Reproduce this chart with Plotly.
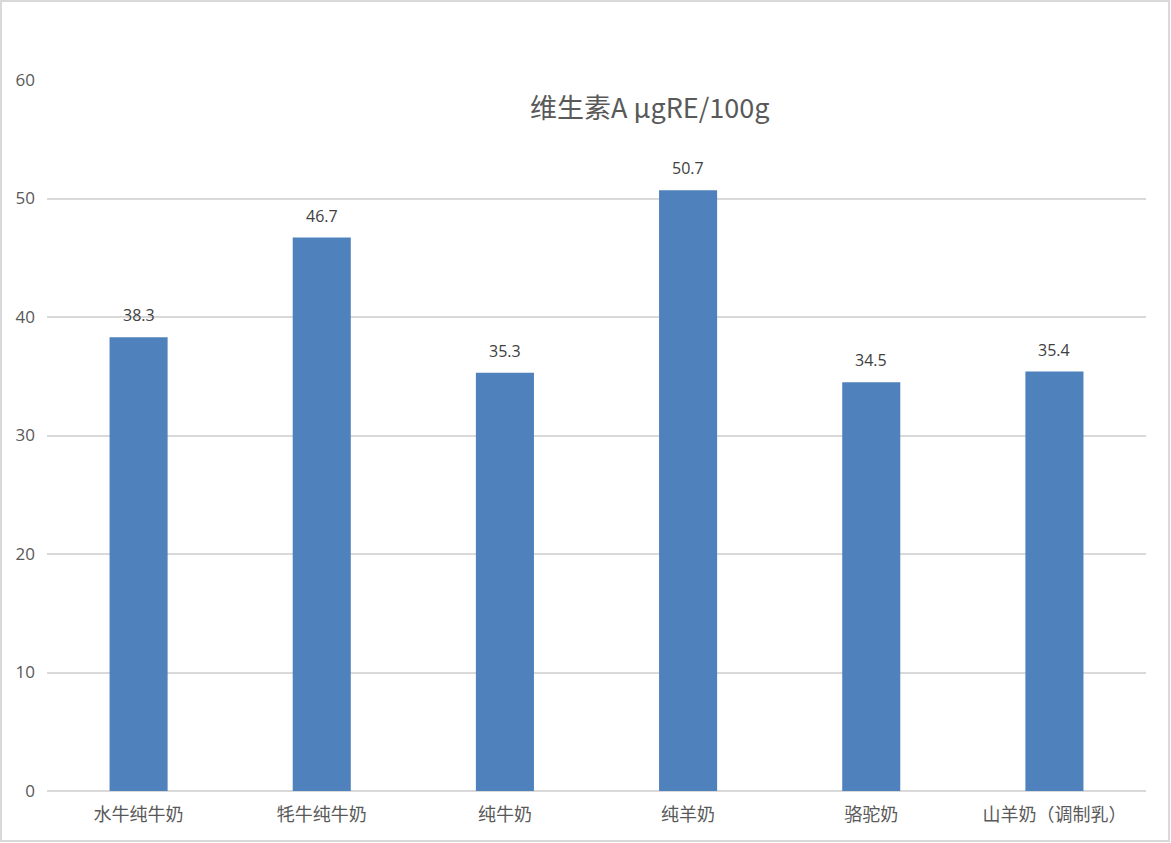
import plotly.graph_objects as go

categories = ["水牛纯牛奶", "牦牛纯牛奶", "纯牛奶", "纯羊奶", "骆驼奶", "山羊奶（调制乳）"]
vitamin_a = [38.3, 46.7, 35.3, 50.7, 34.5, 35.4]
y_ticks = [0, 10, 20, 30, 40, 50, 60]

W, H = 1171, 843
L, R, T, B = 47, 25, 80, 52
pw = W - L - R
ph = H - T - B

fig = go.Figure()
fig.add_trace(go.Bar(
    x=categories, y=vitamin_a,
    marker=dict(color="#4f81bd", line=dict(width=0)),
    width=0.317,
    hoverinfo="x+y",
))

# value labels sit a little above each bar, like the Excel original
for cat, val in zip(categories, vitamin_a):
    fig.add_annotation(
        x=cat, y=val, text=f"{val:.1f}",
        showarrow=False, yanchor="middle", yshift=22,
        font=dict(size=16, color="#404040", family="Open Sans, Noto Sans CJK SC"),
    )

fig.update_layout(
    width=W, height=H,
    margin=dict(l=L, r=R, t=T, b=B),
    paper_bgcolor="white", plot_bgcolor="white",
    showlegend=False,
    font=dict(family="Open Sans, Noto Sans CJK SC", color="#595959"),
    xaxis=dict(
        tickfont=dict(size=18, family="Noto Sans CJK SC", color="#595959"),
        showline=False, showgrid=False, ticks="",
        ticklabelstandoff=11,
    ),
    yaxis=dict(
        range=[0, 60], tickvals=y_ticks,
        tickfont=dict(size=17, color="#595959"),
        showgrid=True, gridcolor="#d9d9d9", gridwidth=2,
        zeroline=True, zerolinecolor="#d9d9d9", zerolinewidth=2,
        showline=False, ticks="", ticklabelstandoff=11,
    ),
)

fig.add_annotation(
    text="维生素A μgRE/100g",
    xref="paper", yref="paper",
    x=(649 - L) / pw, y=(H - B - 106) / ph,
    xanchor="center", yanchor="middle",
    showarrow=False,
    font=dict(size=27, color="#595959", family="Noto Sans CJK SC"),
)

# light grey frame round the whole chart
fig.add_shape(
    type="rect", xref="paper", yref="paper",
    x0=(1 - L) / pw, x1=(W - 2 - L) / pw,
    y0=-(B - 2) / ph, y1=(H - B - 1) / ph,
    line=dict(color="#d9d9d9", width=2),
    layer="below",
)

fig.write_html(
    "out.html",
    config={"displayModeBar": False},
    post_script="document.body.style.margin='0';",
)
